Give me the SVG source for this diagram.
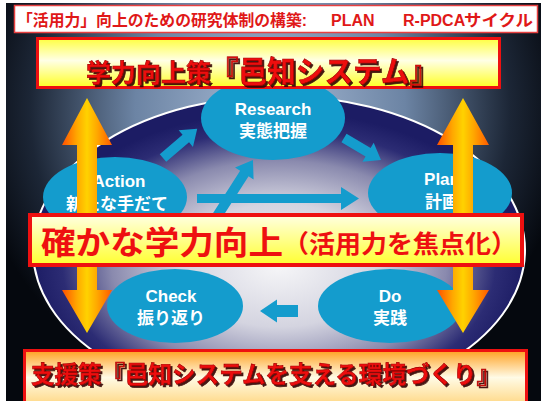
<svg xmlns="http://www.w3.org/2000/svg" width="541" height="401" viewBox="0 0 541 401">
<defs>
<radialGradient id="bg" gradientUnits="userSpaceOnUse" cx="270" cy="110" r="300">
<stop offset="0" stop-color="#a9bcd6"/>
<stop offset="0.45" stop-color="#6c84a4"/>
<stop offset="0.8" stop-color="#1c2636"/>
<stop offset="1" stop-color="#05080e"/>
</radialGradient>
<radialGradient id="disc" cx="0.5" cy="0.55" r="0.5">
<stop offset="0" stop-color="#f6f6f8"/>
<stop offset="0.4" stop-color="#d4d4e0"/>
<stop offset="0.68" stop-color="#8a8aae"/>
<stop offset="0.88" stop-color="#2c2c74"/>
<stop offset="1" stop-color="#1c1c64"/>
</radialGradient>
<linearGradient id="orange" x1="0" y1="0" x2="1" y2="0">
<stop offset="0" stop-color="#ff5000"/>
<stop offset="0.3" stop-color="#ffa800"/>
<stop offset="0.5" stop-color="#ffd200"/>
<stop offset="0.7" stop-color="#ffa800"/>
<stop offset="1" stop-color="#ff5a00"/>
</linearGradient>
<linearGradient id="hdr" x1="0" y1="0" x2="0" y2="1">
<stop offset="0" stop-color="#ffff40"/>
<stop offset="0.45" stop-color="#ffffe6"/>
<stop offset="1" stop-color="#ffff22"/>
</linearGradient>
<linearGradient id="mid" x1="0" y1="0" x2="0" y2="1">
<stop offset="0" stop-color="#ffffe2"/>
<stop offset="1" stop-color="#ffff30"/>
</linearGradient>
<linearGradient id="bot" x1="0" y1="0" x2="0" y2="1">
<stop offset="0" stop-color="#ffa020"/>
<stop offset="0.45" stop-color="#fffbe6"/>
<stop offset="1" stop-color="#ffd070"/>
</linearGradient>
<filter id="sh" x="-5%" y="-20%" width="110%" height="150%">
<feDropShadow dx="2" dy="2" stdDeviation="0.7" flood-color="#300000" flood-opacity="0.9"/>
</filter>
<style>
.node{fill:#149ccd}
.nt{fill:#ffffff;font-family:"Liberation Sans","Noto Sans CJK JP",sans-serif;font-weight:bold;font-size:17px;text-anchor:middle}
.conn{fill:#149ccd}
.red{fill:#ee1010;font-family:"Liberation Sans","Noto Sans CJK JP",sans-serif;font-weight:bold}
.sh{filter:url(#sh);stroke:#a00000;stroke-width:0.6}
.title{fill:#e01818;font-family:"Liberation Sans","Noto Sans CJK JP",sans-serif;font-weight:bold;font-size:16px}
</style>
</defs>
<rect width="541" height="401" fill="#ffffff"/>
<rect x="6" y="3" width="535" height="398" fill="url(#bg)"/>
<ellipse cx="279" cy="250" rx="246" ry="154" fill="url(#disc)" stroke="#ffffff" stroke-width="2"/>

<g id="research"><ellipse class="node" cx="273" cy="118" rx="72" ry="42"/><text class="nt" x="273" y="115">Research</text><text class="nt" x="273" y="137">実態把握</text></g>
<g id="action"><ellipse class="node" cx="115" cy="197" rx="72" ry="40"/><text class="nt" x="119" y="187">Action</text><text class="nt" x="117" y="210">新たな手だて</text></g>
<g id="plan"><ellipse class="node" cx="440" cy="193" rx="72" ry="40"/><text class="nt" x="442" y="185">Plan</text><text class="nt" x="442" y="208">計画</text></g>
<g id="check"><ellipse class="node" cx="175" cy="306" rx="68" ry="37"/><text class="nt" x="171" y="302">Check</text><text class="nt" x="171" y="324">振り返り</text></g>
<g id="do"><ellipse class="node" cx="390" cy="306" rx="72" ry="37"/><text class="nt" x="390" y="302">Do</text><text class="nt" x="390" y="324">実践</text></g>

<g id="connectors">
<path class="conn" transform="translate(163 158) rotate(-40.5)" d="M0,-5H30V-11L45,0L30,11V5H0Z"/>
<path class="conn" transform="translate(344 138) rotate(30.7)" d="M0,-5H28V-11L43,0L28,11V5H0Z"/>
<path class="conn" transform="translate(197 198.5)" d="M0,-4.5H144V-11.5L162,0L144,11.5V4.5H0Z"/>
<path class="conn" transform="translate(205 235) rotate(-57.4)" d="M0,-5H73V-11L89,0L73,11V5H0Z"/>
<path class="conn" transform="translate(298 311) rotate(180)" d="M0,-6H21V-11.5L38,0L21,11.5V6H0Z"/>
</g>

<g id="arrow-left"><polygon fill="url(#orange)" points="87,98 112,145 97,145 97,290 112,290 87,333 62,290 77,290 77,145 62,145"/></g>
<g id="arrow-right"><polygon fill="url(#orange)" points="463,98 489,145 473,145 473,290 489,290 463,333 437,290 453,290 453,145 437,145"/></g>

<g id="header">
<rect x="37.5" y="38.5" width="462" height="49" fill="url(#hdr)" stroke="#ee1010" stroke-width="3"/>
<text class="red sh" y="82"><tspan x="86" font-size="25">学力向上策</tspan><tspan x="210" font-size="30" textLength="228" lengthAdjust="spacingAndGlyphs">『邑知システム』</tspan></text>
</g>

<g id="goal">
<rect x="30" y="215" width="492" height="50" fill="url(#mid)" stroke="#ee1010" stroke-width="4"/>
<text class="red" y="254"><tspan x="41" font-size="32" textLength="242" lengthAdjust="spacingAndGlyphs">確かな学力向上</tspan><tspan x="283" dy="-1" font-size="25" textLength="234" lengthAdjust="spacingAndGlyphs">（活用力を焦点化）</tspan></text>
</g>

<g id="support">
<rect x="24.5" y="350.5" width="502" height="60" fill="url(#bot)" stroke="#ee1010" stroke-width="3"/>
<text class="red sh" x="31" y="383" font-size="24" textLength="469" lengthAdjust="spacingAndGlyphs">支援策『邑知システムを支える環境づくり』</text>
</g>

<g id="title">
<rect x="14.5" y="5.5" width="523" height="27" fill="#ffffff" stroke="#e84040" stroke-width="1.5"/>
<text class="title" y="26"><tspan x="17" textLength="290" lengthAdjust="spacingAndGlyphs">「活用力」向上のための研究体制の構築:</tspan><tspan x="331">PLAN</tspan><tspan x="403">R-PDCA</tspan><tspan x="464" textLength="69" lengthAdjust="spacingAndGlyphs">サイクル</tspan></text>
</g>
</svg>
